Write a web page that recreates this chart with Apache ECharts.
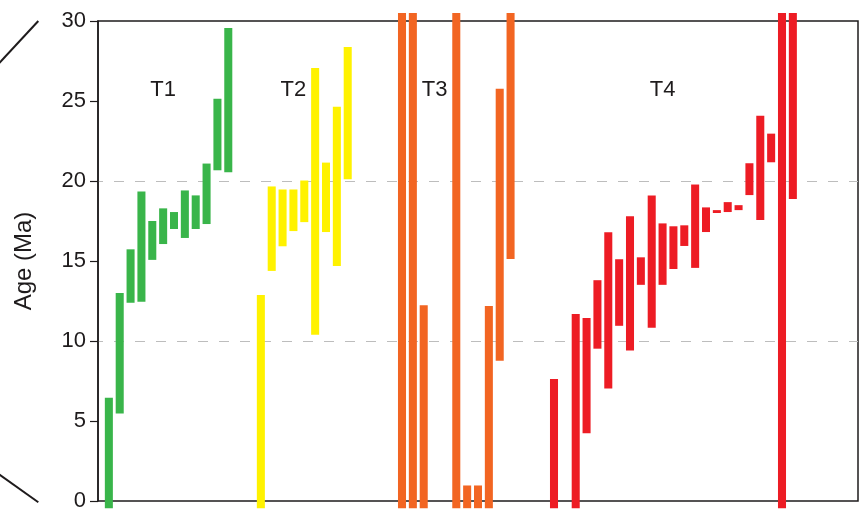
<!DOCTYPE html>
<html>
<head>
<meta charset="utf-8">
<script src="https://cdn.jsdelivr.net/npm/echarts@6/dist/echarts.min.js"></script>
<style>
  html, body { margin: 0; padding: 0; background: #fff; }
  #chart { width: 859px; height: 512px; }
</style>
</head>
<body>
<div id="chart"></div>
<script>
// Age ranges (Ma) of dated samples on each terrace, oldest/youngest bound.
// null marks a sample position with no date; values outside 0-30 run off the scale.
const terraceNames = ['T1', 'T2', 'T3', 'T4'];

const t1Low  = [-0.45, 5.47, 12.39, 12.45, 15.07, 16.06, 17.0, 16.44, 17.0, 17.31, 20.67, 20.55];
const t1High = [6.45, 13.0, 15.73, 19.35, 17.5, 18.29, 18.06, 19.41, 19.1, 21.09, 25.14, 29.56];

const t2Low  = [-0.45, 14.38, 15.92, 16.87, 17.43, 10.39, 16.81, 14.69, 20.11];
const t2High = [12.87, 19.66, 19.47, 19.47, 20.03, 27.07, 21.15, 24.64, 28.38];

const t3Low  = [-0.45, -0.45, -0.45, null, null, -0.45, -0.45, -0.45, -0.45, 8.77, 15.13];
const t3High = [30.5, 30.5, 12.24, null, null, 30.5, 0.97, 0.97, 12.18, 25.76, 30.5];

const t4Low  = [-0.45, null, -0.45, 4.23, 9.52, 7.03, 10.95, 9.4, 13.51, 10.83, 13.51, 14.5,
                15.94, 14.57, 16.81, 18.0, 18.06, 18.18, 19.12, 17.56, 21.17, -0.45, 18.87];
const t4High = [7.63, null, 11.68, 11.43, 13.8, 16.79, 15.11, 17.79, 15.23, 19.1, 17.35, 17.17,
                17.23, 19.78, 18.35, 18.18, 18.68, 18.49, 21.11, 24.08, 22.96, 30.5, 30.5];

const yTicks = [0, 5, 10, 15, 20, 25, 30];

// ---- layout ----
const terraceColors = ['#39B54A', '#FFF200', '#F26522', '#ED1C24'];
const gapSlots = [1, 2, 4, 3, 6];           // empty slots before/between/after terraces
const labelSlot = [6.1, 18.4, 31.3, 51.8];  // where the terrace names sit along x
const labelAge = 25.7;
const ink = '#1E1B1C';

const groups = [[t1Low, t1High], [t2Low, t2High], [t3Low, t3High], [t4Low, t4High]];
const slots = [];
const bars = [];
let s = 0;
const pushEmpty = n => { for (let k = 0; k < n; k++) slots.push('s' + (s++)); };
groups.forEach(([lo, hi], g) => {
  pushEmpty(gapSlots[g]);
  lo.forEach((v, i) => {
    if (v !== null && hi[i] !== null) bars.push([s, v, hi[i], g]);
    slots.push(terraceNames[g] + '-' + (i + 1));
    s++;
  });
});
pushEmpty(gapSlots[4]);

// dashed guides only at 10 and 20 Ma
const splitColors = yTicks.map(t => (t === 10 || t === 20) ? '#BDBDBD' : 'rgba(0,0,0,0)');

const chart = echarts.init(document.getElementById('chart'), null, { renderer: 'canvas' });
chart.setOption({
  animation: false,
  backgroundColor: '#fff',
  grid: {
    left: 98, right: 1, top: 21, bottom: 9.5,
    show: true, borderColor: ink, borderWidth: 1.5, backgroundColor: 'transparent'
  },
  xAxis: {
    type: 'category',
    data: slots,
    boundaryGap: false,
    axisLine: { show: false },
    axisTick: { show: false },
    axisLabel: { show: false },
    splitLine: { show: false }
  },
  yAxis: {
    type: 'value',
    min: 0, max: 30, interval: 5,
    name: 'Age (Ma)',
    nameLocation: 'middle',
    nameGap: 62,
    nameTextStyle: { fontFamily: 'Liberation Sans', fontSize: 24, color: ink },
    axisLine: { show: true, lineStyle: { color: ink, width: 1.5 } },
    axisTick: { show: true, inside: false, length: 8, lineStyle: { color: ink, width: 1.2 } },
    axisLabel: { fontFamily: 'Liberation Sans', fontSize: 22, color: ink, margin: 12 },
    splitLine: {
      show: true,
      lineStyle: { color: splitColors, width: 1, type: [10, 11], dashOffset: 5 }
    }
  },
  series: [
    {
      type: 'custom',
      clip: false,
      encode: { x: 0, y: [1, 2] },
      data: bars,
      renderItem: function (params, api) {
        const x = api.value(0);
        const lo = api.coord([x, api.value(1)]);
        const hi = api.coord([x, api.value(2)]);
        const w = api.size([1, 0])[0] * 0.74;
        return {
          type: 'rect',
          shape: { x: lo[0] - w / 2, y: hi[1], width: w, height: lo[1] - hi[1] },
          style: { fill: terraceColors[api.value(3)] }
        };
      },
      z: 3
    },
    {
      type: 'custom',
      clip: false,
      data: terraceNames.map((n, i) => [labelSlot[i], labelAge, i]),
      renderItem: function (params, api) {
        const p = api.coord([api.value(0), api.value(1)]);
        return {
          type: 'text',
          x: p[0], y: p[1],
          style: {
            text: terraceNames[api.value(2)],
            fontFamily: 'Liberation Sans', fontSize: 22, fill: ink,
            align: 'center', verticalAlign: 'middle'
          }
        };
      },
      z: 4
    }
  ],
  graphic: [
    { type: 'line', shape: { x1: -2, y1: 64.5, x2: 38.3, y2: 21 }, style: { stroke: ink, lineWidth: 2 } },
    { type: 'line', shape: { x1: -2, y1: 473.6, x2: 38.3, y2: 502.3 }, style: { stroke: ink, lineWidth: 2 } }
  ]
});
</script>
</body>
</html>
